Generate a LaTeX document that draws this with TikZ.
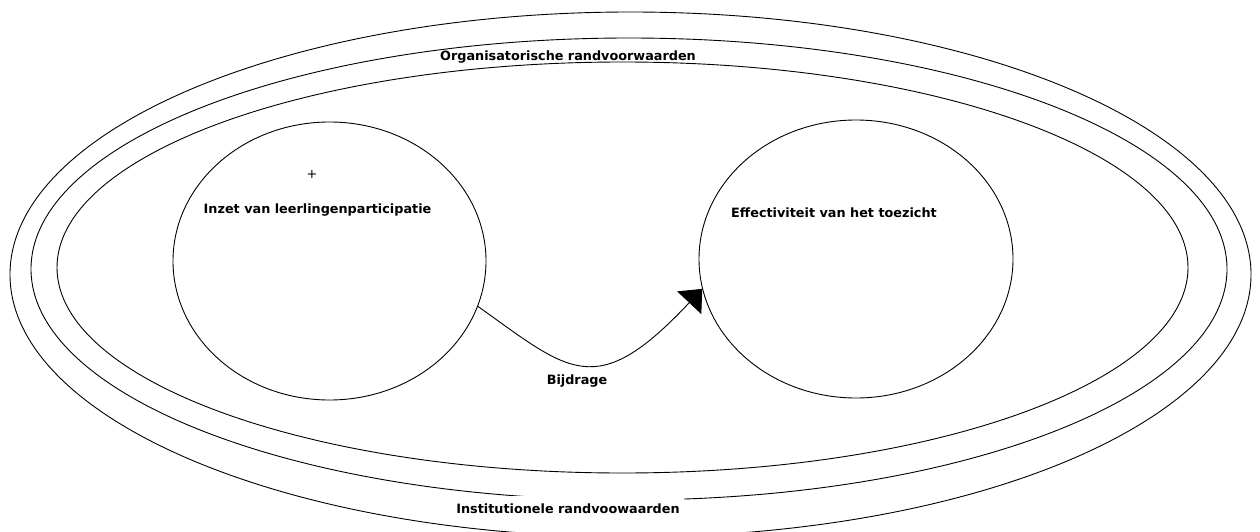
\documentclass[tikz,border=0pt]{standalone}
\usepackage{fontspec}
\setmainfont{DejaVu Sans}
\usetikzlibrary{shapes.geometric,arrows.meta}
\begin{document}
\begin{tikzpicture}[x=1pt,y=-1pt,
  ring/.style={draw=black,line width=0.9pt,ellipse,inner sep=0pt},
  lbl/.style={font=\fontsize{12.8}{15}\selectfont\bfseries,inner sep=0pt,anchor=base},
  conn/.style={draw=black,line width=0.9pt,-{Triangle[length=19pt,width=33pt]}}
]
\useasboundingbox (0,0) rectangle (1260,532);
% nested frames
\node[ring,minimum width=1241pt,minimum height=525pt] (outer) at (630.5,274.5) {};
\node[ring,minimum width=1196pt,minimum height=462pt] (middle) at (629,269) {};
\node[ring,minimum width=1131pt,minimum height=411pt] (inner) at (622.5,267.5) {};
% the two concepts
\node[ring,minimum width=313pt,minimum height=278pt] (inzet) at (329.5,261) {};
\node[ring,minimum width=314pt,minimum height=278pt] (eff) at (856,259) {};
% labels
\node[font=\fontsize{12.8}{15}\selectfont,inner sep=0pt] (plus) at (312,174) {+};
\node[lbl] (tinzet) at (317.5,213) {Inzet van leerlingenparticipatie};
\node[lbl] (teff) at (834,217) {Effectiviteit van het toezicht};
\node[lbl] (torg) at (568,61) {Organisatorische randvoorwaarden};
\node[lbl,fill=white,inner xsep=4pt,inner ysep=7pt] (tinst) at (568,513) {Institutionele randvoowaarden};
\node[lbl] (tbij) at (577,384) {Bijdrage};
% connector
\draw[conn] (inzet.-17) .. controls (570,372) and (596,402) .. (eff.191);
\end{tikzpicture}
\end{document}
